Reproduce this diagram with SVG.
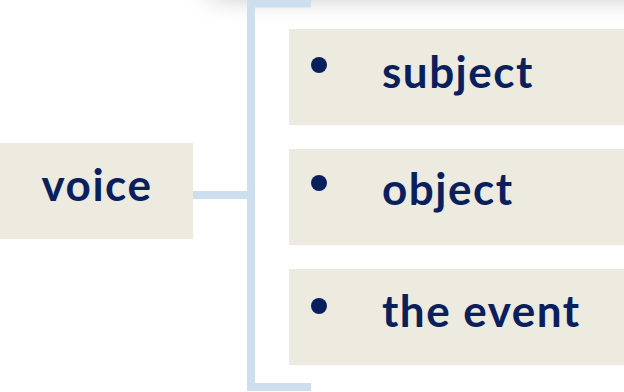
<svg xmlns="http://www.w3.org/2000/svg" width="624" height="392" viewBox="0 0 624 392">
<defs>
<filter id="sh" x="-50%" y="-200%" width="200%" height="500%"><feGaussianBlur stdDeviation="14"/></filter>
<style>
.box{fill:#EDEAE0}
.lbl{font-family:Lato,"Open Sans",sans-serif;font-weight:bold;font-size:44px;letter-spacing:1.5px;fill:#0A205D}
.dot{fill:#0A205D}
.con{fill:none;stroke:#CDDEEE;stroke-width:8}
</style>
</defs>
<rect x="210" y="-55" width="480" height="50" fill="#000" opacity="0.28" filter="url(#sh)"/>
<g id="connectors">
<path class="con" d="M311 3.5 H251 V387 H311"/>
<path class="con" d="M192 195 H251" stroke-linecap="round"/>
</g>
<g id="voice">
<rect class="box" x="0" y="143" width="193" height="96"/>
<text class="lbl" x="97" y="201" text-anchor="middle">voice</text>
</g>
<g id="subject">
<rect class="box" x="289" y="29" width="335" height="96"/>
<circle class="dot" cx="319" cy="65" r="8"/>
<text class="lbl" x="382" y="88">subject</text>
</g>
<g id="object">
<rect class="box" x="289" y="149" width="335" height="96"/>
<circle class="dot" cx="319" cy="183" r="8"/>
<text class="lbl" x="382" y="205">object</text>
</g>
<g id="the-event">
<rect class="box" x="289" y="269" width="335" height="96"/>
<circle class="dot" cx="319" cy="306" r="8"/>
<text class="lbl" x="382" y="327">the event</text>
</g>
</svg>
